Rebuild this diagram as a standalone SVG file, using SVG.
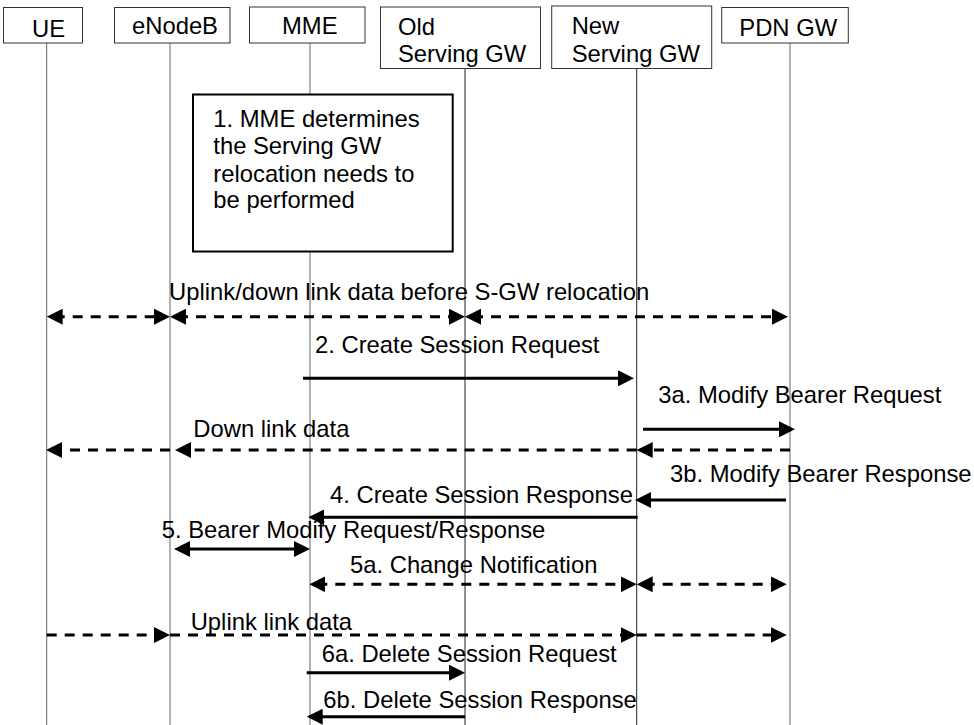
<svg xmlns="http://www.w3.org/2000/svg" width="974" height="725" viewBox="0 0 974 725">
<style>
text{font-family:"Liberation Sans",Arial,sans-serif;font-size:23.8px;fill:#000}
.hdr{fill:#fff;stroke:#333;stroke-width:1}
.ll{stroke:#666;stroke-width:1}
.lld{stroke:#222;stroke-width:1}
.m{stroke:#000;stroke-width:3;fill:none}
.d{stroke:#000;stroke-width:3;fill:none;stroke-dasharray:10,8}
</style>
<defs>
<marker id="ah" markerUnits="userSpaceOnUse" markerWidth="16" markerHeight="16" viewBox="0 0 16 16" refX="8" refY="8" orient="auto-start-reverse">
<path d="M0,0 L16,8 L0,16 z" fill="#000"/>
</marker>
</defs>
<g id="lifelines">
<line class="ll" x1="46.7" y1="43" x2="46.7" y2="725"/>
<line class="ll" x1="170" y1="43" x2="170" y2="725"/>
<line class="ll" x1="310" y1="43" x2="310" y2="725"/>
<line class="lld" x1="465" y1="68" x2="465" y2="725"/>
<line class="lld" x1="636.7" y1="68" x2="636.7" y2="725"/>
<line class="ll" x1="790" y1="43" x2="790" y2="725"/>
</g>
<g id="ue"><rect class="hdr" x="3.5" y="7.5" width="79" height="35.5"/><text x="32" y="37">UE</text></g>
<g id="enodeb"><rect class="hdr" x="114.5" y="7.5" width="115.5" height="35.5"/><text x="132" y="33.5">eNodeB</text></g>
<g id="mme"><rect class="hdr" x="249.5" y="7" width="115.5" height="36"/><text x="282" y="33.5">MME</text></g>
<g id="oldsgw"><rect class="hdr" x="380.5" y="7" width="160" height="61.5"/><text x="398" y="35">Old</text><text x="398" y="61.7">Serving GW</text></g>
<g id="newsgw"><rect class="hdr" x="551.7" y="6" width="160" height="62.5"/><text x="571.7" y="33.5">New</text><text x="571.7" y="61.7">Serving GW</text></g>
<g id="pdngw"><rect class="hdr" x="721.7" y="7.5" width="126.6" height="35.5"/><text x="739.3" y="36">PDN GW</text></g>
<g id="step1">
<rect x="193" y="94.5" width="259.7" height="157" fill="#fff" stroke="#000" stroke-width="2"/>
<text x="213.3" y="126.7">1. MME determines</text>
<text x="213.3" y="153.5">the Serving GW</text>
<text x="213.3" y="181.5">relocation needs to</text>
<text x="213.3" y="208.3">be performed</text>
</g>
<g id="connectors">
<line class="d" x1="54.7" y1="316.7" x2="162" y2="316.7" marker-start="url(#ah)" marker-end="url(#ah)"/>
<line class="d" x1="178" y1="316.7" x2="457" y2="316.7" marker-start="url(#ah)" marker-end="url(#ah)"/>
<line class="d" x1="473" y1="316.7" x2="780" y2="316.7" marker-start="url(#ah)" marker-end="url(#ah)"/>
<line class="m" x1="303" y1="378.3" x2="626" y2="378.3" marker-end="url(#ah)"/>
<line class="m" x1="643" y1="429.3" x2="787" y2="429.3" marker-end="url(#ah)"/>
<line class="d" x1="790" y1="450" x2="644.7" y2="450" marker-end="url(#ah)"/>
<line class="d" x1="636.7" y1="450" x2="183" y2="450" marker-end="url(#ah)"/>
<line class="d" x1="170" y1="450" x2="54" y2="450" marker-end="url(#ah)"/>
<line class="m" x1="786" y1="500" x2="643" y2="500" marker-end="url(#ah)"/>
<line class="m" x1="637.7" y1="517.3" x2="316.3" y2="517.3" marker-end="url(#ah)"/>
<line class="m" x1="182" y1="549" x2="302" y2="549" marker-start="url(#ah)" marker-end="url(#ah)"/>
<line class="d" x1="317.3" y1="584.3" x2="628.7" y2="584.3" marker-start="url(#ah)" marker-end="url(#ah)"/>
<line class="d" x1="644.7" y1="584.3" x2="778.7" y2="584.3" marker-start="url(#ah)" marker-end="url(#ah)"/>
<line class="d" x1="46.7" y1="635" x2="162" y2="635" marker-end="url(#ah)"/>
<line class="d" x1="170" y1="635" x2="628.7" y2="635" marker-end="url(#ah)"/>
<line class="d" x1="636.7" y1="635" x2="778.7" y2="635" marker-end="url(#ah)"/>
<line class="m" x1="306.7" y1="672.7" x2="457" y2="672.7" marker-end="url(#ah)"/>
<line class="m" x1="465" y1="716.7" x2="314.7" y2="716.7" marker-end="url(#ah)"/>
</g>
<g id="labels">
<text x="169" y="300">Uplink/down link data before S-GW relocation</text>
<text x="315" y="353.3">2. Create Session Request</text>
<text x="658.3" y="403">3a. Modify Bearer Request</text>
<text x="193.3" y="436.7">Down link data</text>
<text x="670" y="481.7">3b. Modify Bearer Response</text>
<text x="330" y="503.3">4. Create Session Response</text>
<text x="161.7" y="538">5. Bearer Modify Request/Response</text>
<text x="350" y="573.3">5a. Change Notification</text>
<text x="190.7" y="630">Uplink link data</text>
<text x="321.7" y="661.7">6a. Delete Session Request</text>
<text x="323.3" y="708.3">6b. Delete Session Response</text>
</g>
</svg>
